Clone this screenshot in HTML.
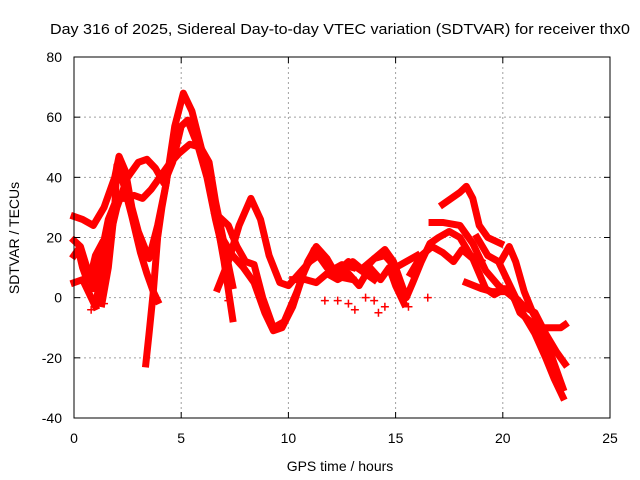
<!DOCTYPE html>
<html><head><meta charset="utf-8">
<style>
body{margin:0;background:#fff;}
svg{display:block;font-family:"Liberation Sans",sans-serif;}
</style></head>
<body>
<svg id="chart" width="640" height="480">
<text x="340" y="34" font-size="15" textLength="580" lengthAdjust="spacingAndGlyphs" text-anchor="middle">Day 316 of 2025, Sidereal Day-to-day VTEC variation (SDTVAR) for receiver thx0</text>
<g id="grid"></g>
<g id="series"></g>
<rect x="74" y="57" width="536" height="361" fill="none" stroke="#000" stroke-width="1"/>
<g id="ticks"></g>
<text x="340" y="471" font-size="14" text-anchor="middle">GPS time / hours</text>
<text transform="translate(19,238) rotate(-90)" font-size="14" text-anchor="middle">SDTVAR / TECUs</text>
</svg>
<script>
const xTicks=[0,5,10,15,20,25];
const yTicks=[-40,-20,0,20,40,60,80];
const arc1=[[0,27],[0.4,26],[0.9,24],[1.4,30],[1.9,40],[2.1,47],[2.4,42],[2.7,30],[3.0,22],[3.5,13],[3.9,24],[4.3,38],[4.7,57],[5.1,68],[5.5,62],[6.0,48],[6.5,32],[7.0,12],[7.4,-7]];
const arc2=[[1.0,-2],[1.5,15],[2.0,30],[2.5,40],[3.0,45],[3.4,46],[3.8,43],[4.2,38],[4.6,45],[5.0,57],[5.3,59],[5.8,50],[6.2,40],[6.6,26],[7.0,14],[7.3,4]];
const arc3=[[0,19],[0.3,17],[0.6,10],[0.9,3],[1.2,12],[1.6,26],[2.0,33],[2.4,33],[2.8,34],[3.2,33],[3.6,36],[4.0,40],[4.4,44],[4.9,48],[5.4,51],[5.9,50],[6.3,45],[6.6,32],[7.0,18],[7.4,4]];
const arc4=[[1.3,-2],[1.6,10],[1.9,30],[2.0,44],[2.3,38],[2.7,27],[3.1,15],[3.4,8],[3.7,2],[3.9,-1]];
const arc5=[[3.35,-22],[3.5,-12],[3.7,2],[3.9,20],[4.1,30],[4.3,38]];
const arc6=[[6.7,3],[7.2,12],[7.7,24],[8.25,33],[8.7,26],[9.1,14],[9.6,5],[10.0,4],[10.5,8],[11,12],[11.4,14],[11.8,10],[12.3,7],[13,6]];
const arc7=[[6.9,20],[7.4,14],[7.9,10],[8.4,5],[8.9,-5],[9.3,-11],[9.7,-10],[10.2,-3],[10.7,8],[11.2,16],[11.6,14],[12.0,9],[12.5,11],[13,10]];
const arc8=[[6.6,28],[7.2,24],[7.6,17],[8.0,12],[8.4,11],[8.8,0],[9.3,-10],[9.8,-8],[10.4,2],[10.9,12],[11.3,17],[11.8,13],[12.2,8],[12.8,12],[13.4,9],[14,6]];
const arc9=[[12,10],[12.5,8],[13,12],[13.5,9],[14,13],[14.5,16],[14.9,12],[15.2,6],[15.5,0],[15.8,5],[16.2,12],[16.6,18],[17,20],[17.5,22],[18,20],[18.5,14],[19,12]];
const arc10=[[17.2,31],[17.6,33],[18.0,35],[18.3,37],[18.6,33],[18.9,24],[19.3,20],[19.6,19],[19.9,18]];
const arc11=[[16.7,25],[17.2,25],[18.0,24],[18.6,18],[19.2,9],[19.8,4],[20.5,0],[21,-6],[21.5,-12],[22,-20],[22.4,-27],[22.8,-33]];
const arc12=[[15.7,8],[16.2,14],[16.7,17],[17.2,15],[17.7,12],[18.1,16],[18.6,13],[19.2,3],[19.6,1],[20.1,3],[20.4,2],[20.8,-5],[21.3,-8],[21.8,-12],[22.3,-20],[22.8,-30]];
const arc13=[[18.3,5],[19.0,3],[19.5,2],[20.0,2]];
const arc14=[[19.9,12],[20.3,17],[20.6,12],[21,2],[21.4,-5],[21.8,-10],[22.2,-10],[22.7,-10],[22.9,-9]];
const arc15=[[18.8,20],[19.3,14],[19.8,12],[20.2,6],[20.6,0],[21,-3],[21.5,-5],[22,-12],[22.5,-18],[22.9,-22]];
const arc16=[[0,14],[0.2,16],[0.4,10],[0.6,6],[0.8,8],[1.0,14],[1.3,18]];
const arc17=[[0,5],[0.4,6],[0.8,0],[1.0,-3]];
const arc18=[[10.2,6],[10.8,6],[11.3,5],[11.8,8],[12.3,6],[12.8,8],[13.3,4],[13.8,10],[14.3,6],[14.7,10],[15.0,4],[15.4,-2]];
const arc19=[[13.5,10],[14,13],[14.5,14],[15,10],[15.5,12],[16,14]];
const scatter=[[12.3,-1],[12.8,-2],[13.1,-4],[13.6,0],[14.2,-5],[14.5,-3],[15.6,-3],[16.5,0],[11.7,-1],[14.0,-1],[7.2,-1],[1.4,-2],[0.8,-4]];
const arcs=[arc1,arc2,arc3,arc4,arc5,arc6,arc7,arc8,arc9,arc10,arc11,arc12,arc13,arc14,arc15,arc16,arc17,arc18,arc19];

const X0=74,X1=610,Y0=418,Y1=57,xMin=0,xMax=25,yMin=-40,yMax=80;
function sx(v){return X0+(v-xMin)/(xMax-xMin)*(X1-X0);}
function sy(v){return Y0-(v-yMin)/(yMax-yMin)*(Y0-Y1);}
const NS='http://www.w3.org/2000/svg';
function mk(tag,attrs,parent){const e=document.createElementNS(NS,tag);for(const k in attrs)e.setAttribute(k,attrs[k]);parent.appendChild(e);return e;}
const grid=document.getElementById('grid'),ticks=document.getElementById('ticks'),series=document.getElementById('series');
xTicks.forEach(t=>{
  const x=sx(t);
  if(t>xMin&&t<xMax){const g=mk('line',{x1:x,x2:x,y1:Y1,y2:Y0,stroke:'#a0a0a0','stroke-dasharray':'2,3'},grid);
  
  }
  const a=mk('line',{x1:x,x2:x,y1:Y0,y2:Y0-6,stroke:'#000'},ticks);
  
  
  const b=mk('line',{x1:x,x2:x,y1:Y1,y2:Y1+6,stroke:'#000'},ticks);
  
  
  const l=mk('text',{x:x,y:443,'font-size':14,'text-anchor':'middle'},ticks);l.textContent=t;
  
  
});
yTicks.forEach(t=>{
  const y=sy(t);
  if(t>yMin&&t<yMax){const g=mk('line',{x1:X0,x2:X1,y1:y,y2:y,stroke:'#a0a0a0','stroke-dasharray':'2,3'},grid);
  
  }
  const a=mk('line',{x1:X0,x2:X0+6,y1:y,y2:y,stroke:'#000'},ticks);
  
  
  const b=mk('line',{x1:X1,x2:X1-6,y1:y,y2:y,stroke:'#000'},ticks);
  
  
  const l=mk('text',{x:62,y:y+5,'font-size':14,'text-anchor':'end'},ticks);l.textContent=t;
  
  
});
arcs.forEach(a=>{
  const p=mk('polyline',{points:a.map(d=>sx(d[0])+','+sy(d[1])).join(' '),fill:'none',stroke:'#ff0000','stroke-width':7,'stroke-linejoin':'round','stroke-linecap':'square'},series);
  
  
});
scatter.forEach(d=>{
  const x=sx(d[0]),y=sy(d[1]);
  const p=mk('path',{d:`M${x-4},${y}H${x+4}M${x},${y-4}V${y+4}`,stroke:'#ff0000','stroke-width':1.5},series);
  
  
});
</script>
</body></html>
